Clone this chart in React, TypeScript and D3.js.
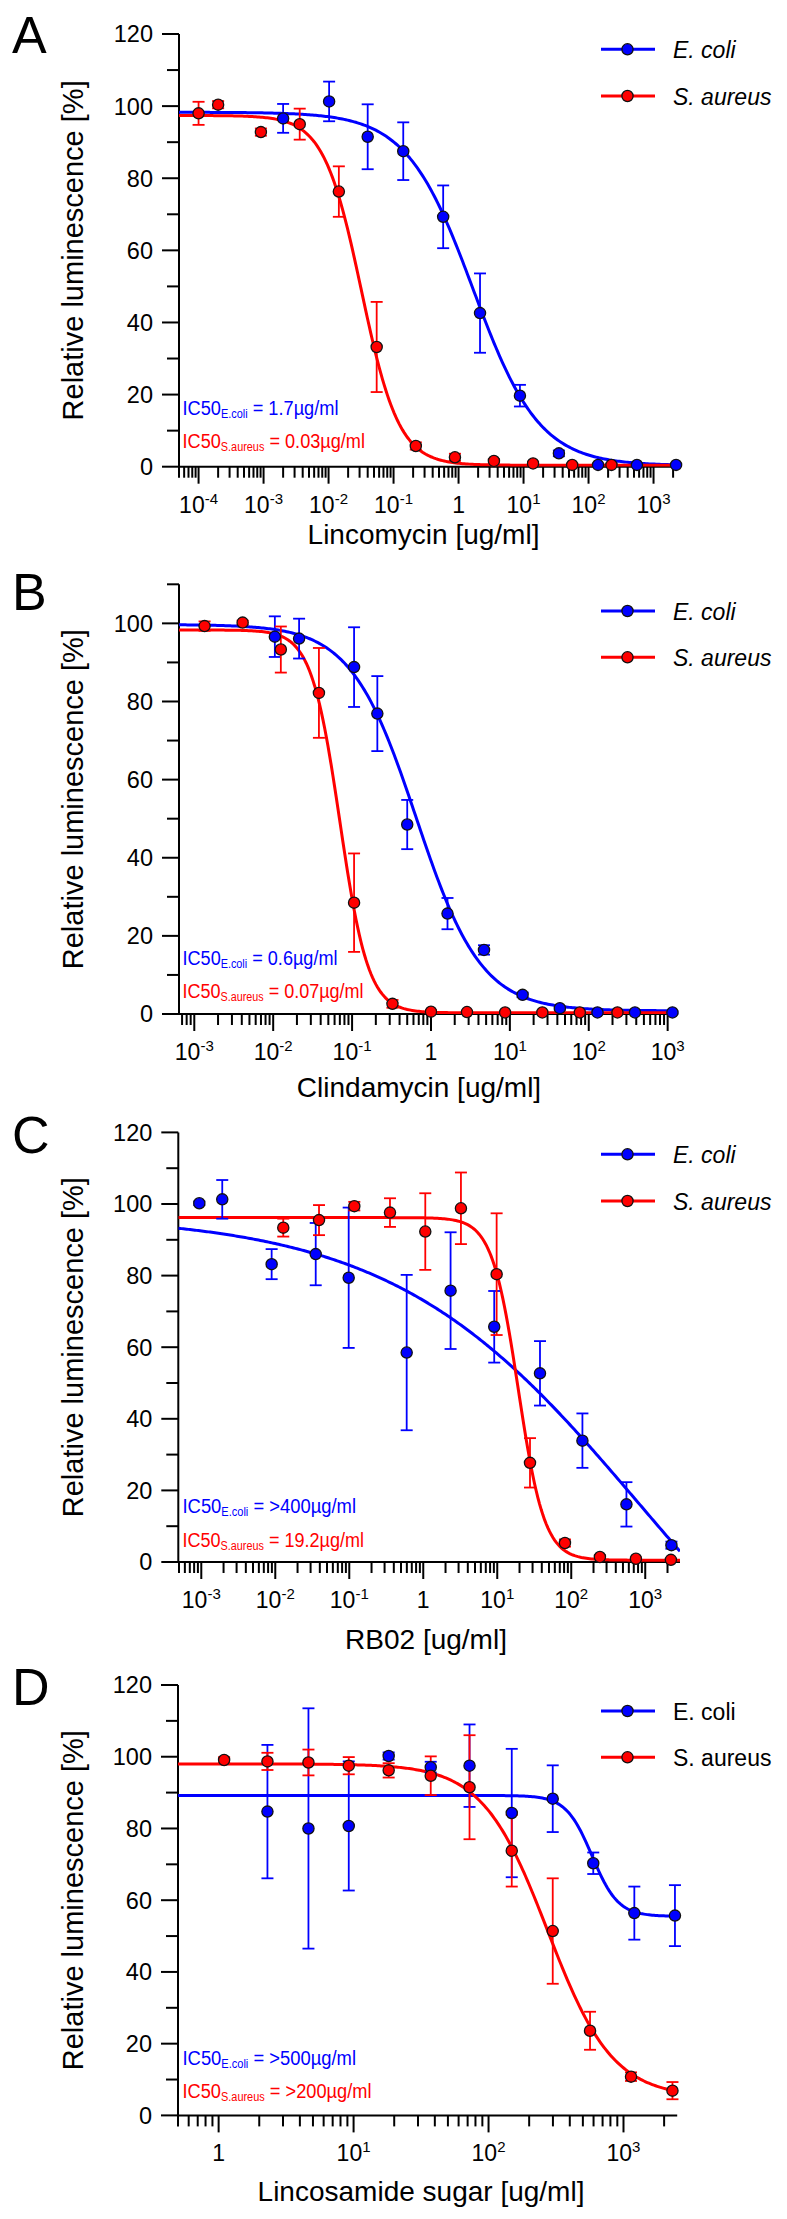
import React from 'react';
import * as d3 from 'd3';

// ---------------- DATA ----------------
// Panel A – Lincomycin
const aEcoliX = [0.002, 0.0102, 0.04, 0.141, 0.58, 2.14, 8.8, 35, 140, 555, 2220];
const aEcoliY = [96.6, 101.3, 91.5, 87.5, 69.3, 42.6, 19.7, 3.7, 0.5, 0.5, 0.5];
const aEcoliErr = [4, 5.5, 9, 8, 8.7, 11, 3, 0.8, 0.3, 0.3, 0.3];
const aSaureusX = [1e-4, 2e-4, 9.1e-4, 0.0036, 0.0144, 0.055, 0.22, 0.88, 3.5, 14, 56, 225];
const aSaureusY = [98.0, 100.4, 92.8, 95.0, 76.3, 33.2, 5.75, 2.6, 1.6, 0.9, 0.5, 0.5];
const aSaureusErr = [3.2, 1, 1, 4.3, 7, 12.5, 1, 1, 0.5, 0.5, 0.3, 0.3];
const aEcoliFit = { top: 98.3, bottom: 0.3, ic50: 1.67, hill: 0.85 };
const aSaureusFit = { top: 97.4, bottom: 0.4, ic50: 0.032, hill: 1.5 };

// Panel B – Clindamycin
const bEcoliX = [0.0105, 0.0213, 0.106, 0.209, 0.5, 1.62, 4.7, 14.5, 43, 129, 385, 1150];
const bEcoliY = [96.6, 96.1, 88.8, 76.9, 48.5, 25.7, 16.4, 4.9, 1.5, 0.4, 0.4, 0.4];
const bEcoliErr = [5.2, 5.1, 10.2, 9.6, 6.3, 4, 1.2, 0.6, 0.4, 0.3, 0.3, 0.3];
const bSaureusX = [1.35e-3, 4.1e-3, 0.0125, 0.038, 0.106, 0.325, 1.0, 2.86, 8.7, 25.8, 77, 231];
const bSaureusY = [99.3, 100.2, 93.3, 82.2, 28.5, 2.6, 0.6, 0.5, 0.4, 0.4, 0.4, 0.4];
const bSaureusErr = [1.2, 0.5, 5.9, 11.5, 12.6, 1, 0.4, 0.3, 0.3, 0.3, 0.3, 0.3];
const bEcoliFit = { top: 99.7, bottom: 0.8, ic50: 0.65, hill: 1.05 };
const bSaureusFit = { top: 98.3, bottom: 0.3, ic50: 0.07, hill: 2.4 };

// Panel C – RB02
const cEcoliX = [9.4e-4, 1.92e-3, 8.93e-3, 0.0352, 0.0982, 0.597, 2.34, 9.1, 37.8, 141.6, 557, 2259];
const cEcoliY = [100.2, 101.3, 83.2, 86.0, 79.4, 58.5, 75.8, 65.7, 52.7, 33.9, 16.1, 4.7];
const cEcoliErr = [0.5, 5.4, 4.2, 8.7, 19.6, 21.7, 16.3, 10, 9, 7.6, 6.2, 1];
const cSaureusX = [0.01282, 0.039, 0.117, 0.355, 1.065, 3.23, 9.81, 27.7, 82.2, 244, 748, 2222];
const cSaureusY = [93.4, 95.5, 99.4, 97.6, 92.3, 98.8, 80.4, 27.7, 5.3, 1.4, 0.9, 0.6];
const cSaureusErr = [2.5, 4.2, 1.2, 4, 10.7, 10, 17, 6.9, 1, 0.5, 0.4, 0.3];
const cEcoliFit = { top: 97, bottom: -65, ic50: 848, hill: 0.26 };
const cSaureusFit = { top: 96.2, bottom: 0.5, ic50: 19.2, hill: 2.45 };

// Panel D – Lincosamide sugar
const dEcoliX = [2.3, 4.63, 9.21, 18.2, 37.3, 72.3, 148.6, 299, 597, 1203, 2406];
const dEcoliY = [84.7, 80.0, 80.7, 100.2, 97.1, 97.5, 84.3, 88.3, 70.3, 56.4, 55.7];
const dEcoliErr = [18.6, 33.5, 18, 1, 1.5, 11.5, 17.9, 9.3, 3, 7.4, 8.5];
const dSaureusX = [1.098, 2.3, 4.63, 9.21, 18.2, 37.3, 72.3, 148.6, 299, 565, 1137, 2306];
const dSaureusY = [99.1, 98.7, 98.4, 97.5, 96.2, 94.7, 91.5, 73.8, 51.4, 23.6, 10.8, 6.9];
const dSaureusErr = [0.8, 2.4, 3.6, 2.4, 2, 5.4, 14.5, 10, 14.7, 5.3, 1.2, 2.4];
const dEcoliFit = { top: 89.2, bottom: 55.5, ic50: 585, hill: 4.5 };
const dSaureusFit = { top: 98, bottom: 5, ic50: 274, hill: 1.8 };

const seriesNames = ['E. coli', 'S. aureus'];
const panelLetters = ['A', 'B', 'C', 'D'];
const xTitles = ['Lincomycin [ug/ml]', 'Clindamycin [ug/ml]', 'RB02 [ug/ml]', 'Lincosamide sugar [ug/ml]'];
const yTitle = 'Relative luminescence [%]';
const ic50Ecoli = ['1.7µg/ml', '0.6µg/ml', '>400µg/ml', '>500µg/ml'];
const ic50Saureus = ['0.03µg/ml', '0.07µg/ml', '19.2µg/ml', '>200µg/ml'];
const yMaxes = [120, 110, 120, 120];
const xDomains: [number, number][] = [[5e-5, 2.5e3], [6.4e-4, 1.25e3], [4.89e-4, 2950], [0.5, 2500]];

// ---------------- LAYOUT ----------------
const BLUE = '#0000ff';
const RED = '#ff0000';
const FONT = "'Liberation Sans', Arial, Helvetica, sans-serif";

const layouts = [
  { xr: [179, 679.4], yr: [466.7, 34], letterY: 53, titleX: 423.5, titleY: 543.5, legY: [49.3, 96], icY: [415, 448.3], icW: [156, 182.5], italic: true },
  { xr: [179, 675.3], yr: [1014, 584.3], letterY: 610, titleX: 419, titleY: 1097, legY: [611, 657.3], icY: [965, 998.3], icW: [155, 181], italic: true },
  { xr: [178.3, 680], yr: [1562, 1132.4], letterY: 1153, titleX: 426, titleY: 1649, legY: [1154.3, 1201], icY: [1513.3, 1546.7], icW: [173.5, 181.5], italic: true },
  { xr: [178, 677.2], yr: [2115.4, 1685], letterY: 1705, titleX: 421, titleY: 2201, legY: [1711, 1757.3], icY: [2065, 2098.3], icW: [173.5, 189], italic: false },
];

const panelSeries = [
  [{ x: aEcoliX, y: aEcoliY, e: aEcoliErr, fit: aEcoliFit }, { x: aSaureusX, y: aSaureusY, e: aSaureusErr, fit: aSaureusFit }],
  [{ x: bEcoliX, y: bEcoliY, e: bEcoliErr, fit: bEcoliFit }, { x: bSaureusX, y: bSaureusY, e: bSaureusErr, fit: bSaureusFit }],
  [{ x: cEcoliX, y: cEcoliY, e: cEcoliErr, fit: cEcoliFit }, { x: cSaureusX, y: cSaureusY, e: cSaureusErr, fit: cSaureusFit }],
  [{ x: dEcoliX, y: dEcoliY, e: dEcoliErr, fit: dEcoliFit }, { x: dSaureusX, y: dSaureusY, e: dSaureusErr, fit: dSaureusFit }],
];

type Fit = { top: number; bottom: number; ic50: number; hill: number };
const logistic = (f: Fit, x: number) => f.bottom + (f.top - f.bottom) / (1 + Math.pow(x / f.ic50, f.hill));

function Panel({ idx }: { idx: number }) {
  const L = layouts[idx];
  const dom = xDomains[idx];
  const yMax = yMaxes[idx];
  const x = d3.scaleLog().domain(dom).range(L.xr as [number, number]);
  const y = d3.scaleLinear().domain([0, yMax]).range(L.yr as [number, number]);
  const x0 = L.xr[0], x1 = L.xr[1], y0 = L.yr[0], y1 = L.yr[1];
  const colors = [BLUE, RED];

  const kMin = Math.floor(Math.log10(dom[0]));
  const kMax = Math.ceil(Math.log10(dom[1]));
  const xTicks: { v: number; major: boolean; k: number }[] = [];
  for (let k = kMin; k <= kMax; k++) {
    for (let m = 1; m <= 9; m++) {
      const v = m * Math.pow(10, k);
      if (v >= dom[0] * 0.999 && v <= dom[1] * 1.001) xTicks.push({ v, major: m === 1, k });
    }
  }
  const yTicks = d3.range(0, yMax + 0.1, 10);

  const clipId = `clip${idx}`;

  const curvePath = (f: Fit) => {
    const lx = d3.scaleLinear().domain([0, 300]).range([Math.log10(dom[0]), Math.log10(dom[1])]);
    const pts = d3.range(0, 301).map((i) => Math.pow(10, lx(i)));
    return d3.line<number>().x((v) => x(v)).y((v) => y(logistic(f, v)))(pts) || '';
  };

  return (
    <g>
      <defs>
        <clipPath id={clipId}>
          <rect x={x0} y={y1 - 5} width={x1 - x0} height={y0 - y1 + 5} />
        </clipPath>
      </defs>
      <text x={12} y={L.letterY} fontSize={52} fontFamily={FONT}>{panelLetters[idx]}</text>

      <line x1={x0} x2={x0} y1={y0} y2={y(yMax)} stroke="#000" strokeWidth={2} />
      <line x1={x0 - 1} x2={x1} y1={y0} y2={y0} stroke="#000" strokeWidth={2} />
      {yTicks.map((v) => (
        <g key={`yt${v}`}>
          <line x1={x0 - (v % 20 === 0 ? 17 : 12)} x2={x0} y1={y(v)} y2={y(v)} stroke="#000" strokeWidth={2} />
          {v % 20 === 0 && (
            <text x={x0 - 26} y={y(v)} dy="0.36em" textAnchor="end" fontSize={23.5} fontFamily={FONT}>{v}</text>
          )}
        </g>
      ))}
      {xTicks.map((t, i) => (
        <g key={`xt${i}`}>
          <line x1={x(t.v)} x2={x(t.v)} y1={y0} y2={y0 + (t.major ? 17 : 11)} stroke="#000" strokeWidth={2} />
          {t.major && (
            <text x={x(t.v)} y={y0 + 46} textAnchor="middle" fontSize={23} fontFamily={FONT}>
              {t.k === 0 ? '1' : (
                <>
                  <tspan>10</tspan>
                  <tspan fontSize={15} dy={-9}>{String(t.k)}</tspan>
                </>
              )}
            </text>
          )}
        </g>
      ))}

      <text x={L.titleX} y={L.titleY} textAnchor="middle" fontSize={28} fontFamily={FONT}>{xTitles[idx]}</text>
      <text transform={`translate(83,${(y0 + y1) / 2}) rotate(-90)`} textAnchor="middle" fontSize={29} fontFamily={FONT}>{yTitle}</text>

      <g clipPath={`url(#${clipId})`}>
        {panelSeries[idx].map((s, si) => (
          <path key={`c${si}`} d={curvePath(s.fit)} fill="none" stroke={colors[si]} strokeWidth={3} />
        ))}
      </g>
      {panelSeries[idx].map((s, si) => (
        <g key={`e${si}`} stroke={colors[si]} strokeWidth={1.8}>
          {s.x.map((xv, i) => {
            const cx = x(xv);
            const yt = y(s.y[i] + s.e[i]);
            const yb = y(Math.max(0, s.y[i] - s.e[i]));
            return (
              <g key={i}>
                <line x1={cx} x2={cx} y1={yt} y2={yb} />
                <line x1={cx - 6} x2={cx + 6} y1={yt} y2={yt} />
                <line x1={cx - 6} x2={cx + 6} y1={yb} y2={yb} />
              </g>
            );
          })}
        </g>
      ))}
      {panelSeries[idx].map((s, si) => (
        <g key={`m${si}`}>
          {s.x.map((xv, i) => (
            <circle key={i} cx={x(xv)} cy={y(s.y[i])} r={5.6} fill={colors[si]} stroke="#111" strokeWidth={1.3} />
          ))}
        </g>
      ))}

      {seriesNames.map((n, si) => (
        <g key={`l${si}`}>
          <line x1={601} x2={655} y1={L.legY[si]} y2={L.legY[si]} stroke={colors[si]} strokeWidth={3} />
          <circle cx={627.5} cy={L.legY[si]} r={5.6} fill={colors[si]} stroke="#111" strokeWidth={1.3} />
          <text x={673} y={L.legY[si] + 8.5} fontSize={23} fontStyle={L.italic ? 'italic' : 'normal'} fontFamily={FONT}>{n}</text>
        </g>
      ))}

      <text x={182.5} y={L.icY[0]} fill={BLUE} fontSize={20} fontFamily={"'Liberation Sans Narrow', " + FONT} textLength={L.icW[0]} lengthAdjust="spacingAndGlyphs">
        <tspan>IC50</tspan>
        <tspan fontSize={12} dy={3}>E.coli</tspan>
        <tspan dy={-3}>{' = ' + ic50Ecoli[idx]}</tspan>
      </text>
      <text x={182.5} y={L.icY[1]} fill={RED} fontSize={20} fontFamily={"'Liberation Sans Narrow', " + FONT} textLength={L.icW[1]} lengthAdjust="spacingAndGlyphs">
        <tspan>IC50</tspan>
        <tspan fontSize={12} dy={3}>S.aureus</tspan>
        <tspan dy={-3}>{' = ' + ic50Saureus[idx]}</tspan>
      </text>
    </g>
  );
}

export default function App() {
  return (
    <svg width={787} height={2219} viewBox="0 0 787 2219" style={{ position: 'absolute', left: 0, top: 0, background: '#fff' }}>
      <rect x={0} y={0} width={787} height={2219} fill="#fff" />
      {[0, 1, 2, 3].map((i) => (
        <Panel key={i} idx={i} />
      ))}
    </svg>
  );
}
